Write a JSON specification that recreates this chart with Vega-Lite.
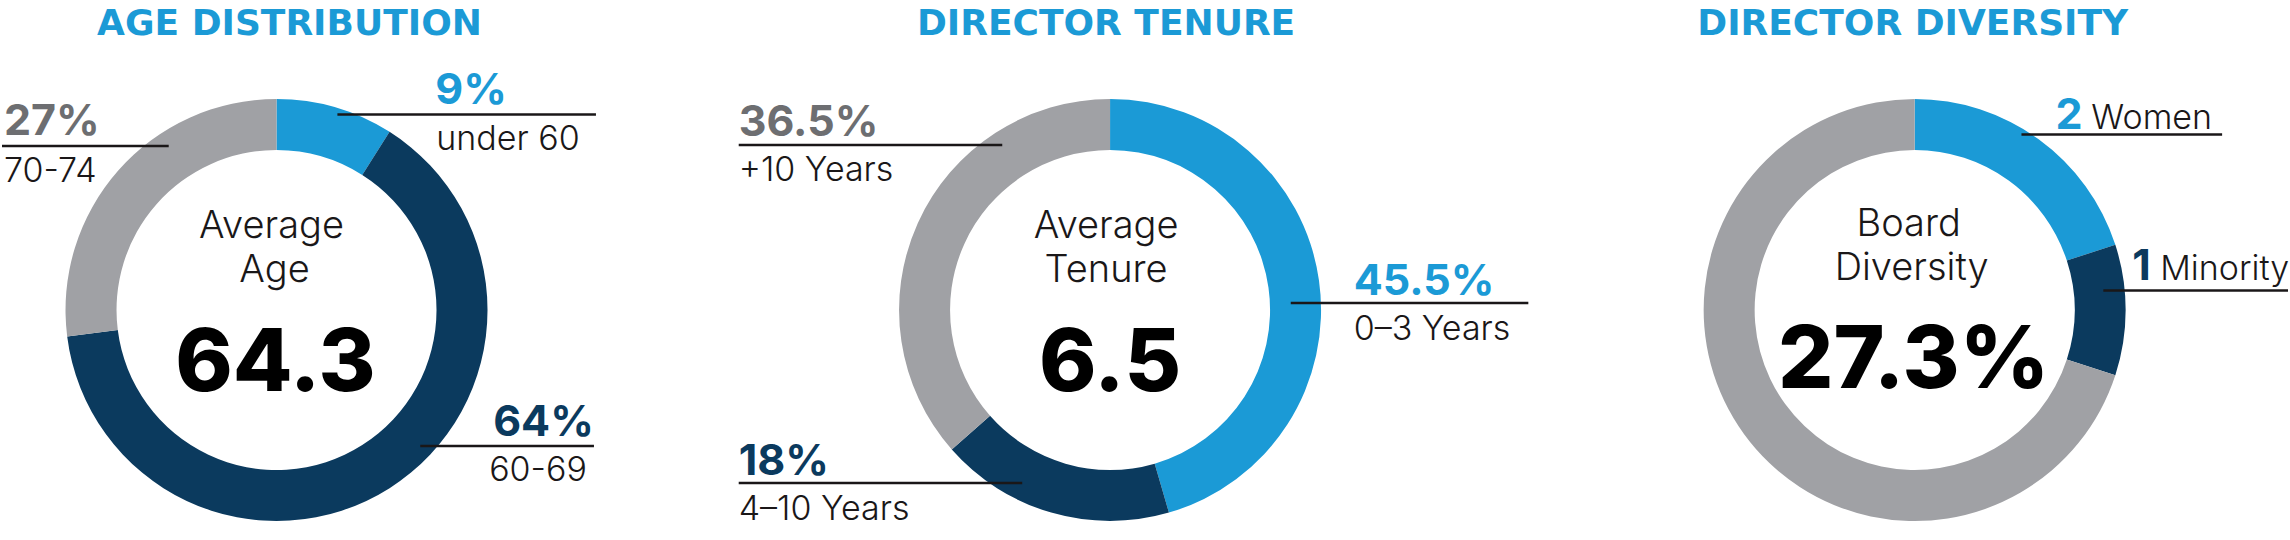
{
  "$schema": "https://vega.github.io/schema/vega-lite/v6.json",
  "width": 2290,
  "height": 540,
  "padding": 0,
  "autosize": {"type": "fit", "contains": "padding"},
  "background": "#ffffff",
  "config": {"view": {"stroke": null}},
  "datasets": {
    "arcs": [
      {"chart": "age", "cx": 275, "cy": 310, "tone": "blue", "value": 9, "order": 1},
      {"chart": "age", "cx": 275, "cy": 310, "tone": "navy", "value": 64, "order": 2},
      {"chart": "age", "cx": 275, "cy": 310, "tone": "gray", "value": 27, "order": 3},
      {"chart": "tenure", "cx": 1110, "cy": 310, "tone": "blue", "value": 45.5, "order": 1},
      {"chart": "tenure", "cx": 1110, "cy": 310, "tone": "navy", "value": 18, "order": 2},
      {"chart": "tenure", "cx": 1110, "cy": 310, "tone": "gray", "value": 36.5, "order": 3},
      {"chart": "diversity", "cx": 1916, "cy": 310, "tone": "blue", "value": 20, "order": 1},
      {"chart": "diversity", "cx": 1916, "cy": 310, "tone": "navy", "value": 10, "order": 2},
      {"chart": "diversity", "cx": 1916, "cy": 310, "tone": "gray", "value": 70, "order": 3}
    ],
    "rules": [
      {"x1": 336, "x2": 595, "y": 114.5},
      {"x1": 0, "x2": 167, "y": 146},
      {"x1": 419, "x2": 593, "y": 446},
      {"x1": 738, "x2": 1002, "y": 145},
      {"x1": 1291, "x2": 1529, "y": 303},
      {"x1": 738, "x2": 1022, "y": 483},
      {"x1": 2023, "x2": 2224, "y": 134.5},
      {"x1": 2105, "x2": 2290, "y": 290.5}
    ],
    "titles": [
      {"label": "AGE DISTRIBUTION", "x": 288, "y": 35},
      {"label": "DIRECTOR TENURE", "x": 1106, "y": 35},
      {"label": "DIRECTOR DIVERSITY", "x": 1914, "y": 35}
    ],
    "pcts": [
      {"label": "9%", "x": 434, "y": 104, "tone": "blue"},
      {"label": "27%", "x": 2, "y": 135, "tone": "darkgray"},
      {"label": "64%", "x": 492, "y": 436, "tone": "navy"},
      {"label": "36.5%", "x": 738, "y": 136, "tone": "darkgray"},
      {"label": "45.5%", "x": 1354, "y": 295, "tone": "blue"},
      {"label": "18%", "x": 738, "y": 475, "tone": "navy"},
      {"label": "2", "x": 2057, "y": 128.5, "tone": "blue"},
      {"label": "1", "x": 2134, "y": 280, "tone": "navy"}
    ],
    "subs": [
      {"label": "under 60", "x": 435, "y": 149.5},
      {"label": "70-74", "x": 2, "y": 181.5},
      {"label": "60-69", "x": 488, "y": 481},
      {"label": "+10 Years", "x": 738, "y": 181},
      {"label": "0–3 Years", "x": 1354, "y": 340},
      {"label": "4–10 Years", "x": 738, "y": 520},
      {"label": "Women", "x": 2093, "y": 128.5},
      {"label": "Minority", "x": 2162, "y": 280}
    ],
    "centers": [
      {"label": "Average", "x": 270, "y": 238},
      {"label": "Age", "x": 273, "y": 282},
      {"label": "Average", "x": 1106, "y": 238},
      {"label": "Tenure", "x": 1106, "y": 282},
      {"label": "Board", "x": 1910, "y": 236},
      {"label": "Diversity", "x": 1913, "y": 280}
    ],
    "bigs": [
      {"label": "64.3", "x": 274, "y": 391},
      {"label": "6.5", "x": 1110, "y": 391},
      {"label": "27.3%", "x": 1915, "y": 388}
    ]
  },
  "layer": [
    {
      "data": {"name": "arcs"},
      "transform": [
        {"stack": "value", "groupby": ["chart"], "sort": [{"field": "order", "order": "ascending"}], "as": ["t0", "t1"]}
      ],
      "mark": {"type": "arc", "innerRadius": 160, "outerRadius": 211},
      "encoding": {
        "x": {"field": "cx", "type": "quantitative", "scale": {"domain": [0, 2290], "nice": false, "zero": false}, "axis": null},
        "y": {"field": "cy", "type": "quantitative", "scale": {"domain": [0, 540], "nice": false, "zero": false, "reverse": true}, "axis": null},
        "theta": {"field": "t0", "type": "quantitative", "stack": null, "scale": {"domain": [0, 100], "nice": false}},
        "theta2": {"field": "t1"},
        "color": {"field": "tone", "type": "nominal", "legend": null, "scale": {"domain": ["blue", "navy", "gray", "darkgray"], "range": ["#1b9ad6", "#0b3a5e", "#a0a1a5", "#6d6e71"]}}
      }
    },
    {
      "data": {"name": "rules"},
      "mark": {"type": "rule", "stroke": "#1a1718", "strokeWidth": 2.5},
      "encoding": {
        "x": {"field": "x1", "type": "quantitative"},
        "x2": {"field": "x2"},
        "y": {"field": "y", "type": "quantitative"}
      }
    },
    {
      "data": {"name": "titles"},
      "mark": {"type": "text", "font": "DejaVu Sans", "fontWeight": "bold", "fontSize": 36, "align": "center", "baseline": "alphabetic", "fill": "#1b9ad6"},
      "encoding": {
        "x": {"field": "x", "type": "quantitative"},
        "y": {"field": "y", "type": "quantitative"},
        "text": {"field": "label"}
      }
    },
    {
      "data": {"name": "pcts"},
      "mark": {"type": "text", "font": "Inter", "fontWeight": 700, "fontSize": 43, "align": "left", "baseline": "alphabetic"},
      "encoding": {
        "x": {"field": "x", "type": "quantitative"},
        "y": {"field": "y", "type": "quantitative"},
        "text": {"field": "label"},
        "color": {"field": "tone", "type": "nominal", "legend": null}
      }
    },
    {
      "data": {"name": "subs"},
      "mark": {"type": "text", "font": "Inter", "fontWeight": 300, "fontSize": 34, "align": "left", "baseline": "alphabetic", "fill": "#1a1718"},
      "encoding": {
        "x": {"field": "x", "type": "quantitative"},
        "y": {"field": "y", "type": "quantitative"},
        "text": {"field": "label"}
      }
    },
    {
      "data": {"name": "centers"},
      "mark": {"type": "text", "font": "Inter", "fontWeight": 300, "fontSize": 38, "align": "center", "baseline": "alphabetic", "fill": "#1a1718"},
      "encoding": {
        "x": {"field": "x", "type": "quantitative"},
        "y": {"field": "y", "type": "quantitative"},
        "text": {"field": "label"}
      }
    },
    {
      "data": {"name": "bigs"},
      "mark": {"type": "text", "font": "Inter", "fontWeight": 800, "fontSize": 87, "align": "center", "baseline": "alphabetic", "fill": "#000000"},
      "encoding": {
        "x": {"field": "x", "type": "quantitative"},
        "y": {"field": "y", "type": "quantitative"},
        "text": {"field": "label"}
      }
    }
  ]
}
